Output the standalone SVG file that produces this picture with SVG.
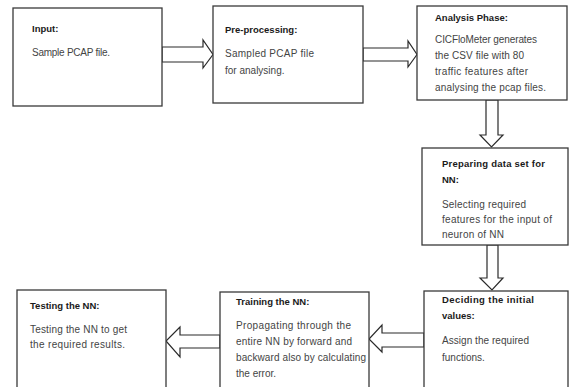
<svg xmlns="http://www.w3.org/2000/svg" width="569" height="387" viewBox="0 0 569 387">
<style>
.box{fill:#fff;stroke:#3a3a3a;stroke-width:1.3}
.arr{fill:#fff;stroke:#2a2a2a;stroke-width:1.2;stroke-linejoin:miter}
.h{font-family:"Liberation Sans",Arial,sans-serif;font-size:9.5px;font-weight:bold;fill:#1a1a1a}
.t{font-family:"Liberation Sans",Arial,sans-serif;font-size:10px;fill:#444}
</style>
<rect width="569" height="387" fill="#fff"/>
<g id="connectors">
<polygon class="arr" points="162,47 203,47 203,40 213,54.5 203,68 203,62 162,62"/>
<polygon class="arr" points="363,48 408,48 408,41 417,54.5 408,67 408,61 363,61"/>
<polygon class="arr" points="486,100 498,100 498,135 503,135 491.5,147 480,135 486,135"/>
<polygon class="arr" points="487,245 498,245 498,278 503,278 492,290 480,278 487,278"/>
<polygon class="arr" points="424,333 382,333 382,325 369,339 382,352 382,347 424,347"/>
<polygon class="arr" points="220,335 180,335 180,327 166,341 180,357 180,348 220,348"/>
</g>
<g id="input">
<rect class="box" x="13" y="8" width="149" height="98"/>
<text class="h" x="32" y="32">Input:</text>
<text class="t" x="32" y="56" textLength="78">Sample PCAP file.</text>
</g>
<g id="preprocessing">
<rect class="box" x="213" y="6" width="150" height="97"/>
<text class="h" x="225" y="33">Pre-processing:</text>
<text class="t" x="225" y="57" textLength="89">Sampled PCAP file</text>
<text class="t" x="225" y="74">for analysing.</text>
</g>
<g id="analysis">
<rect class="box" x="417" y="6" width="150" height="94"/>
<text class="h" x="435" y="21">Analysis Phase:</text>
<text class="t" x="435" y="43" textLength="102">CICFloMeter generates</text>
<text class="t" x="435" y="59" textLength="89">the CSV file with 80</text>
<text class="t" x="435" y="75" textLength="93">traffic features after</text>
<text class="t" x="435" y="91" textLength="111">analysing the pcap files.</text>
</g>
<g id="preparing">
<rect class="box" x="422" y="148" width="146" height="97"/>
<text class="h" x="442" y="167" textLength="103">Preparing data set for</text>
<text class="h" x="442" y="183">NN:</text>
<text class="t" x="442" y="208" textLength="84">Selecting required</text>
<text class="t" x="442" y="223" textLength="110">features for the input of</text>
<text class="t" x="442" y="238" textLength="62">neuron of NN</text>
</g>
<g id="deciding">
<rect class="box" x="424" y="291" width="144" height="110"/>
<text class="h" x="442" y="303" textLength="92">Deciding the initial</text>
<text class="h" x="442" y="319">values:</text>
<text class="t" x="442" y="344" textLength="87">Assign the required</text>
<text class="t" x="442" y="361">functions.</text>
</g>
<g id="training">
<rect class="box" x="220" y="292" width="149" height="110"/>
<text class="h" x="236" y="305">Training the NN:</text>
<text class="t" x="236" y="329" textLength="115">Propagating through the</text>
<text class="t" x="236" y="345" textLength="116">entire NN by forward and</text>
<text class="t" x="236" y="361" textLength="130">backward also by calculating</text>
<text class="t" x="236" y="377">the error.</text>
</g>
<g id="testing">
<rect class="box" x="17" y="290" width="149" height="110"/>
<text class="h" x="30" y="309">Testing the NN:</text>
<text class="t" x="30" y="333" textLength="97">Testing the NN to get</text>
<text class="t" x="30" y="348" textLength="95">the required results.</text>
</g>
</svg>
